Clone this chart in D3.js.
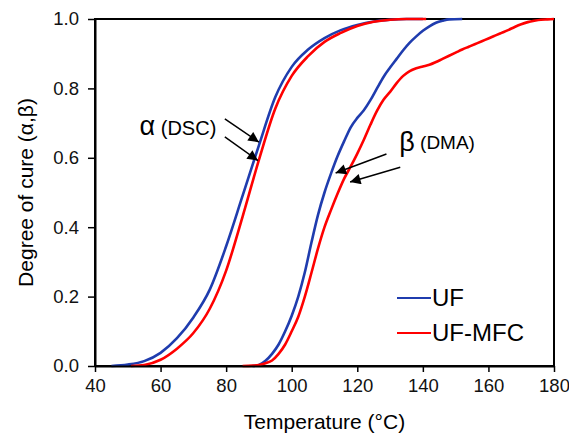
<!DOCTYPE html>
<html>
<head>
<meta charset="utf-8">
<script src="https://cdnjs.cloudflare.com/ajax/libs/d3/7.8.5/d3.min.js"></script>
<style>
  body { margin: 0; background: #fff; }
  svg { font-family: "Liberation Sans", Arial, sans-serif; }
  .axis text { font-size: 18.5px; fill: #111; }
  .axis line { stroke: #000; stroke-width: 1.5px; }
  .axis path { stroke: #000; stroke-width: 2px; }
</style>
</head>
<body>
<svg id="chart" width="569" height="434"></svg>
<script>
// Ticks
const xTicks = [40, 60, 80, 100, 120, 140, 160, 180];
const yTicks = [0, 0.2, 0.4, 0.6, 0.8, 1.0];

// alpha (DSC), UF
const tempAlphaUF = [45, 50, 55, 60, 65, 70, 75, 80, 85, 90, 95, 100, 105, 110, 115, 120, 125, 130, 135, 140];
const alphaUF     = [0, 0.004, 0.014, 0.038, 0.08, 0.14, 0.22, 0.345, 0.49, 0.636, 0.775, 0.862, 0.912, 0.945, 0.968, 0.983, 0.993, 0.998, 1.0, 1.0];

// alpha (DSC), UF-MFC
const tempAlphaMFC = [51, 55, 60, 65, 70, 75, 80, 85, 90, 95, 100, 105, 110, 115, 120, 125, 130, 135, 141];
const alphaMFC     = [0, 0.003, 0.018, 0.05, 0.095, 0.165, 0.275, 0.43, 0.594, 0.742, 0.836, 0.893, 0.934, 0.96, 0.98, 0.992, 0.998, 1.0, 1.0];

// beta (DMA), UF
const tempBetaUF = [88, 90, 92, 94, 96, 98, 100, 102, 104, 106, 108, 110, 112, 114, 116, 118, 120, 122, 124, 126, 128, 130, 132, 134, 136, 138, 140, 142, 144, 146, 148, 152];
const betaUF     = [0, 0.003, 0.015, 0.035, 0.062, 0.1, 0.145, 0.2, 0.27, 0.355, 0.435, 0.5, 0.555, 0.605, 0.648, 0.688, 0.715, 0.737, 0.766, 0.8, 0.833, 0.86, 0.885, 0.91, 0.932, 0.95, 0.966, 0.979, 0.989, 0.995, 0.999, 1.0];

// beta (DMA), UF-MFC
const tempBetaMFC = [85, 88, 90, 92, 94, 96, 98, 100, 102, 104, 106, 108, 110, 112, 114, 116, 118, 120, 122, 124, 126, 128, 130, 132, 134, 136, 138, 140, 142, 144, 146, 148, 150, 152, 154, 156, 158, 160, 162, 164, 166, 168, 170, 172, 174, 176, 178, 180];
const betaMFC     = [0, 0.001, 0.003, 0.008, 0.016, 0.035, 0.062, 0.1, 0.142, 0.2, 0.268, 0.338, 0.4, 0.45, 0.497, 0.54, 0.575, 0.612, 0.652, 0.695, 0.735, 0.767, 0.79, 0.815, 0.836, 0.85, 0.858, 0.863, 0.868, 0.876, 0.885, 0.894, 0.903, 0.912, 0.92, 0.928, 0.936, 0.944, 0.952, 0.96, 0.968, 0.977, 0.985, 0.991, 0.995, 0.998, 0.999, 1.0];

const seriesNames = ['UF', 'UF-MFC'];
const seriesColors = ['#1f3cae', '#ff0000'];

// Annotation arrows, in data units: [T0, v0, T1, v1]
const alphaArrows = [[79.6, 0.712, 90.0, 0.645], [79.6, 0.66, 89.7, 0.592]];
const betaArrows  = [[128.9, 0.611, 113.4, 0.556], [133.1, 0.573, 117.8, 0.530]];

const zip = (xs, ys) => xs.map((x, i) => ({ t: x, v: ys[i] }));

function drawChart() {
  let margin = {top: 19, right: 15, bottom: 68, left: 95},
      width = 569 - margin.left - margin.right,
      height = 434 - margin.top - margin.bottom,
      svg = d3.select('#chart'),
      g = svg.append('g').attr('transform', 'translate(' + margin.left + ',' + margin.top + ')');

  let x = d3.scaleLinear().domain([40, 180]).range([0, width]);
  let y = d3.scaleLinear().domain([0, 1]).range([height, 0]);

  // frame
  g.append('rect')
    .attr('width', width)
    .attr('height', height)
    .attr('fill', 'none')
    .attr('stroke', '#000')
    .attr('stroke-width', 2);

  let line = d3.line()
    .x(d => x(d.t))
    .y(d => y(d.v))
    .curve(d3.curveMonotoneX);

  let curves = [
    { data: zip(tempAlphaUF, alphaUF), c: 0 },
    { data: zip(tempBetaUF, betaUF), c: 0 },
    { data: zip(tempAlphaMFC, alphaMFC), c: 1 },
    { data: zip(tempBetaMFC, betaMFC), c: 1 }
  ];

  g.selectAll('path.curve')
    .data(curves)
    .enter()
    .append('path')
    .attr('class', 'curve')
    .attr('d', d => line(d.data))
    .attr('fill', 'none')
    .attr('stroke', d => seriesColors[d.c])
    .attr('stroke-width', 2.6)
    .attr('stroke-linejoin', 'round');

  // axes
  g.append('g')
    .attr('class', 'axis')
    .attr('transform', 'translate(0,' + height + ')')
    .call(d3.axisBottom(x).tickValues(xTicks).tickSize(6).tickSizeOuter(0).tickPadding(7))
    .selectAll('text').attr('dy', '0.71em');

  g.append('g')
    .attr('class', 'axis')
    .call(d3.axisLeft(y).tickValues(yTicks).tickFormat(d3.format('.1f')).tickSize(7).tickSizeOuter(0).tickPadding(9));

  // axis titles
  svg.append('text')
    .attr('x', margin.left + width / 2)
    .attr('y', 429)
    .attr('text-anchor', 'middle')
    .style('font-size', '21px')
    .text('Temperature (°C)');

  svg.append('text')
    .attr('transform', 'translate(33,' + (margin.top + height / 2) + ') rotate(-90)')
    .attr('text-anchor', 'middle')
    .style('font-size', '21px')
    .text('Degree of cure (α,β)');

  // arrows
  svg.append('defs').append('marker')
    .attr('id', 'head')
    .attr('viewBox', '0 0 10 10')
    .attr('refX', 10).attr('refY', 5)
    .attr('markerWidth', 8).attr('markerHeight', 7)
    .attr('markerUnits', 'strokeWidth')
    .attr('orient', 'auto')
    .append('path').attr('d', 'M0,0L10,5L0,10z').attr('fill', '#000');

  g.selectAll('line.arrow')
    .data(alphaArrows.concat(betaArrows))
    .enter()
    .append('line')
    .attr('class', 'arrow')
    .attr('x1', d => x(d[0])).attr('y1', d => y(d[1]))
    .attr('x2', d => x(d[2])).attr('y2', d => y(d[3]))
    .attr('stroke', '#000')
    .attr('stroke-width', 1.5)
    .attr('marker-end', 'url(#head)');

  // labels
  let aLab = g.append('text')
    .attr('x', x(53.6)).attr('y', y(0.665));
  aLab.append('tspan').style('font-size', '27px').text('α');
  aLab.append('tspan').style('font-size', '20px').text(' (DSC)');

  let bLab = g.append('text')
    .attr('x', x(132.8)).attr('y', y(0.62));
  bLab.append('tspan').style('font-size', '27px').text('β');
  bLab.append('tspan').style('font-size', '19px').attr('dy', -2).text(' (DMA)');

  // legend
  let legend = svg.append('g').attr('transform', 'translate(397, 298)');
  let items = legend.selectAll('g')
    .data(seriesNames)
    .enter()
    .append('g')
    .attr('transform', (d, i) => 'translate(0,' + (i * 35) + ')');
  items.append('line')
    .attr('x1', 0).attr('x2', 34)
    .attr('stroke', (d, i) => seriesColors[i])
    .attr('stroke-width', 2);
  items.append('text')
    .attr('x', 35).attr('y', 8)
    .style('font-size', '24px')
    .text(d => d);
}

drawChart();
</script>
</body>
</html>
